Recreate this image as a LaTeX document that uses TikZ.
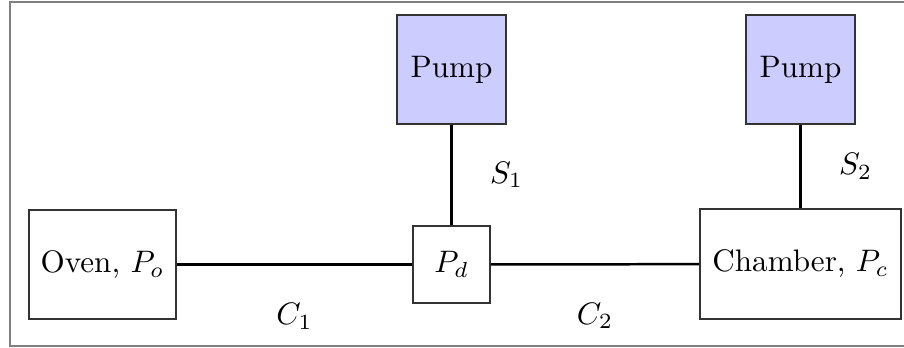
\documentclass[tikz,border=0pt]{standalone}

\begin{document}
\begin{tikzpicture}[
    box/.style={draw=black!80, line width=0.6pt, minimum height=1.23cm, inner sep=3pt},
    pumpbox/.style={box, fill=pumpColor, minimum width=1.23cm},
    pipe/.style={thick},
    tag/.style={inner sep=2pt}]

% Define Colors
\colorlet{pumpColor}{blue!20}

% --- FRAME (open on the right) ---
    \useasboundingbox (0,0) rectangle (10.215,3.921);
    \draw[gray, line width=0.8pt] (10.3,0.011) -- (0.113,0.011) -- (0.113,3.899) -- (10.3,3.899);

% --- LOWER ROW: oven, junction, chamber ---
    \node[box, minimum width=1.66cm] (oven) at (1.158,0.932) {Oven, $P_o$};
    \node[box, minimum width=0.87cm, minimum height=0.87cm] (junc) at (5.102,0.932) {$P_d$};
    \node[box, minimum width=2.27cm, minimum height=1.24cm] (chamber) at (9.046,0.938) {Chamber, $P_c$};

% --- UPPER ROW: the two pumps ---
    \node[pumpbox] (pumpA) at (5.102,3.136) {Pump};
    \node[pumpbox] (pumpB) at (9.046,3.136) {Pump};

% Conductances along the line
    \draw[pipe] (oven) -- node[tag, midway, below=10pt] (cA) {$C_1$} (junc);
    \draw[pipe] (junc) -- node[tag, midway, below=10pt] (cB) {$C_2$} (chamber);

% Pumping speeds
    \draw[pipe] (pumpA) -- node[tag, midway, right=10pt] (sA) {$S_1$} (junc);
    \draw[pipe] (pumpB) -- node[tag, midway, right=10pt] (sB) {$S_2$} (chamber);

\end{tikzpicture}
\end{document}
